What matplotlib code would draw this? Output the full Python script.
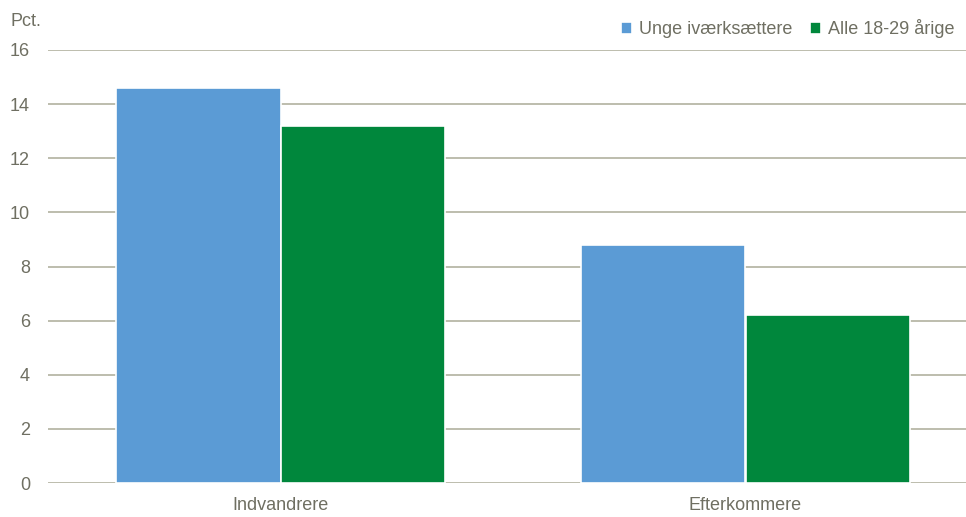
import matplotlib
matplotlib.use("Agg")
import matplotlib.pyplot as plt
import numpy as np

categories = ["Indvandrere", "Efterkommere"]
series_names = ["Unge iværksættere", "Alle 18-29 årige"]
unge = [14.6, 8.8]
alle = [13.2, 6.2]
colors = ["#5B9BD5", "#00873C"]
yticks = [0, 2, 4, 6, 8, 10, 12, 14, 16]

plt.rcParams["font.family"] = ["Liberation Sans", "DejaVu Sans"]
text_col = "#6F6F62"
grid_col = "#B2B1A0"

fig = plt.figure(figsize=(9.66, 5.17), dpi=100)
ax = fig.add_axes([48 / 966, (517 - 483) / 517, (966 - 48) / 966, 433 / 517])

x = np.arange(len(categories))
w = 0.354
ax.bar(x - w / 2, unge, w, color=colors[0], edgecolor="white", linewidth=1.2,
       label=series_names[0], zorder=3)
ax.bar(x + w / 2, alle, w, color=colors[1], edgecolor="white", linewidth=1.2,
       label=series_names[1], zorder=3)

ax.set_ylim(0, 16)
ax.set_xlim(-0.5, (966 - 48) / 465 - 0.5)
ax.set_yticks(yticks)
ax.set_xticks(x)
ax.set_xticklabels(categories)
ax.yaxis.grid(True, color=grid_col, linewidth=1.2, zorder=0)
for s in ax.spines.values():
    s.set_visible(False)
ax.tick_params(axis="both", length=0, labelsize=13, colors=text_col)
ax.tick_params(axis="y", pad=13)
ax.tick_params(axis="x", pad=10)

fig.text(10 / 966, 1 - 22 / 517, "Pct.", fontsize=13, color=text_col, va="center")

leg = fig.legend(loc="center right", bbox_to_anchor=(962 / 966, 1 - 29 / 517),
                 ncol=2, frameon=False, fontsize=13, handlelength=0.6, handleheight=0.6,
                 handletextpad=0.4, columnspacing=1.0, borderaxespad=0)
for t in leg.get_texts():
    t.set_color(text_col)

fig.savefig("out.png", dpi=100)
